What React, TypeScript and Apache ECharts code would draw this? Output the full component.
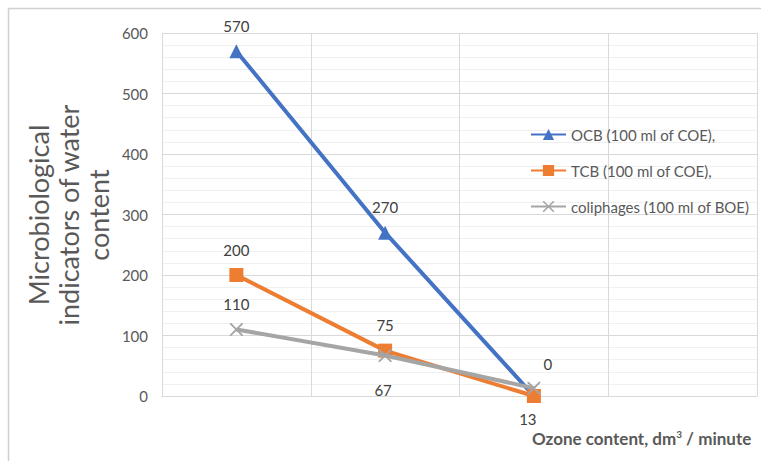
import React, { useEffect, useRef } from "react";
import * as echarts from "echarts";

// Ozone dose steps (unlabelled bands on the category axis)
const categories = ["", "", "", ""];
const ocb = [570, 270, 0];
const tcb = [200, 75, 0];
const coliphages = [110, 67, 13];
const yTicks = { min: 0, max: 600, interval: 100 };

const seriesNames = [
  "OCB (100 ml of COE),",
  "TCB (100 ml of COE),",
  "coliphages (100 ml of BOE)",
];

const FONT = "Lato, 'Open Sans', sans-serif";
const CROSS =
  "path://M0,0L2,0L10,8L18,0L20,0L20,2L12,10L20,18L20,20L18,20L10,12L2,20L0,20L0,18L8,10L0,2Z";

export default function App() {
  const ref = useRef<HTMLDivElement>(null);

  useEffect(() => {
    if (!ref.current) return;
    const chart = echarts.init(ref.current, undefined, { renderer: "svg" });

    const labelBase = {
      show: true,
      color: "#404040",
      fontSize: 15,
      fontFamily: FONT,
    };

    chart.setOption({
      animation: false,
      backgroundColor: "#ffffff",
      textStyle: { fontFamily: FONT },
      grid: { left: 162, top: 33, right: 4, bottom: 65, containLabel: false },
      legend: {
        orient: "vertical",
        left: 525,
        top: 122,
        itemWidth: 35,
        itemHeight: 14,
        itemGap: 21,
        textStyle: { color: "#595959", fontSize: 15, fontFamily: FONT },
        data: seriesNames,
      },
      xAxis: {
        type: "category",
        data: categories,
        boundaryGap: true,
        axisLine: { show: true, lineStyle: { color: "#d9d9d9", width: 1 } },
        axisTick: { show: false },
        axisLabel: { show: false },
        splitLine: { show: true, lineStyle: { color: "#d9d9d9", width: 1 } },
      },
      yAxis: {
        type: "value",
        min: yTicks.min,
        max: yTicks.max,
        interval: yTicks.interval,
        axisLine: { show: false },
        axisTick: { show: false },
        axisLabel: { color: "#595959", fontSize: 15, margin: 14, fontFamily: FONT },
        splitLine: { show: true, lineStyle: { color: "#d9d9d9", width: 1 } },
        minorTick: { show: false, splitNumber: 5 },
        minorSplitLine: { show: true, lineStyle: { color: "#f0f0f0", width: 1 } },
      },
      series: [
        {
          name: seriesNames[0],
          type: "line",
          data: ocb.map((v, i) =>
            i === 2 ? { value: v, label: { offset: [14, -7] } } : v
          ),
          symbol: "triangle",
          symbolSize: 14,
          lineStyle: { color: "#4472C4", width: 4 },
          itemStyle: { color: "#4472C4" },
          label: { ...labelBase, position: "top", distance: 11 },
          z: 3,
        },
        {
          name: seriesNames[1],
          type: "line",
          data: tcb.map((v, i) =>
            i === 2 ? { value: v, label: { show: false } } : v
          ),
          symbol: "rect",
          symbolSize: 14,
          lineStyle: { color: "#ED7D31", width: 4 },
          itemStyle: { color: "#ED7D31" },
          label: { ...labelBase, position: "top", distance: 11 },
          z: 4,
        },
        {
          name: seriesNames[2],
          type: "line",
          data: coliphages.map((v, i) =>
            i === 0
              ? { value: v, label: { position: "top", distance: 11 } }
              : i === 2
              ? { value: v, label: { position: "bottom", distance: 17, offset: [-6, 0] } }
              : { value: v, label: { position: "bottom", distance: 21, offset: [-2, 0] } }
          ),
          symbol: CROSS,
          symbolSize: 13,
          lineStyle: { color: "#A5A5A5", width: 4 },
          itemStyle: { color: "#A5A5A5" },
          label: { ...labelBase },
          z: 5,
        },
      ],
      graphic: [
        {
          type: "rect",
          shape: { x: 8.5, y: 8.5, width: 800, height: 500 },
          style: { fill: "none", stroke: "#d0d0d0", lineWidth: 1.5 },
          silent: true,
        },
        {
          type: "text",
          x: 68,
          y: 215,
          rotation: Math.PI / 2,
          style: {
            text: "Microbiological\nindicators of water\ncontent",
            fill: "#595959",
            fontSize: 27,
            lineHeight: 30,
            fontFamily: FONT,
            align: "center",
            verticalAlign: "middle",
          },
        },
        {
          type: "text",
          x: 532,
          y: 438,
          style: {
            text: "{a|Ozone content, dm}{s|3}{a| / minute}",
            fill: "#595959",
            verticalAlign: "middle",
            rich: {
              a: { fontSize: 17, fontWeight: "bold", fill: "#595959", fontFamily: FONT },
              s: {
                fontSize: 10,
                fontWeight: "bold",
                fill: "#595959",
                fontFamily: FONT,
                padding: [0, 0, 9, 0],
              },
            },
          },
        },
      ],
    });

    return () => chart.dispose();
  }, []);

  return (
    <div
      ref={ref}
      style={{ position: "absolute", left: 0, top: 0, width: 761, height: 461 }}
    />
  );
}
